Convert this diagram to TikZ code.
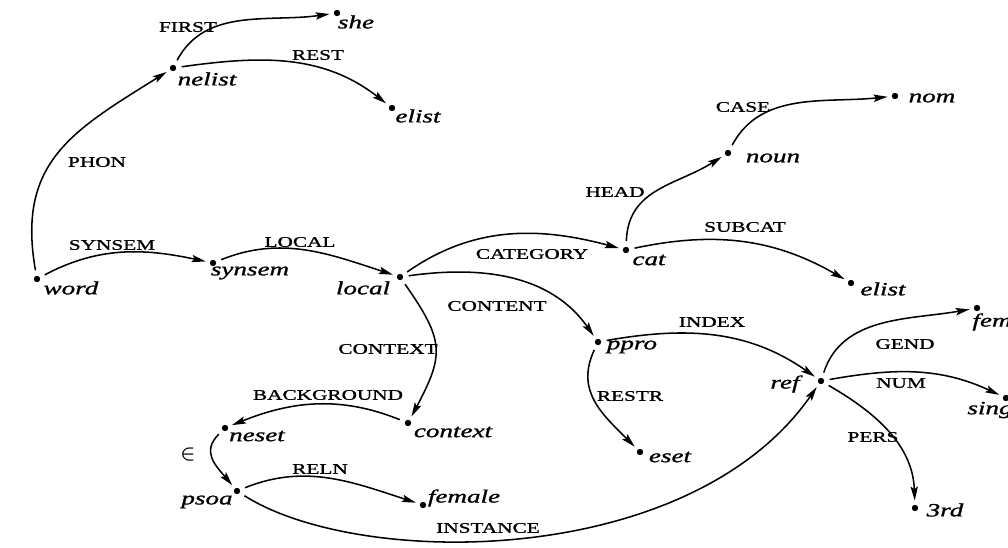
\documentclass[tikz,border=0pt]{standalone}
\usepackage{graphicx}
\usepackage{fontspec}
\setmainfont[FakeStretch=1.45,FakeBold=1.2]{Liberation Serif}
\usetikzlibrary{arrows.meta}
\begin{document}
\begin{tikzpicture}[x=0.75pt,y=0.75pt,
  dot/.style={circle,fill=black,inner sep=0pt,minimum size=4.8pt},
  val/.style={font=\fontsize{14}{14}\selectfont\itshape,inner sep=0pt},
  feat/.style={font=\fontsize{11}{11}\selectfont,inner sep=0pt},
  arc/.style={line width=1.15pt,-{Stealth[length=10.5pt,width=5.5pt,inset=2pt]},
              shorten <=4pt,shorten >=3pt},
]
\useasboundingbox (0,0) rectangle (1008,547);

% sort nodes (dots)
\node[dot] (she)     at (337,534) {};
\node[dot] (nelist)  at (173,479) {};
\node[dot] (elistA)  at (392,439) {};
\node[dot] (nom)     at (895,451) {};
\node[dot] (noun)    at (728,394) {};
\node[dot] (cat)     at (626,297) {};
\node[dot] (elistB)  at (851,264) {};
\node[dot] (word)    at (37,268) {};
\node[dot] (synsem)  at (213,284) {};
\node[dot] (local)   at (400,270) {};
\node[dot] (ppro)    at (598,205) {};
\node[dot] (fem)     at (977,239) {};
\node[dot] (ref)     at (821,166) {};
\node[dot] (sing)    at (1006,149) {};
\node[dot] (context) at (408,124) {};
\node[dot] (neset)   at (225,119) {};
\node[dot] (eset)    at (640,95) {};
\node[dot] (psoa)    at (237,56) {};
\node[dot] (female)  at (423,42) {};
\node[dot] (third)   at (915,39) {};

% sort names
\node[val] (she-t)     at (356,525) {she};
\node[val] (nelist-t)  at (207,468) {nelist};
\node[val] (elistA-t)  at (418,431) {elist};
\node[val] (nom-t)     at (932,449) {nom};
\node[val] (noun-t)    at (773,389) {noun};
\node[val] (cat-t)     at (649,287) {cat};
\node[val] (elistB-t)  at (883,258) {elist};
\node[val] (word-t)    at (71,259) {word};
\node[val] (synsem-t)  at (250,274) {synsem};
\node[val] (local-t)   at (363,259) {local};
\node[val] (ppro-t)    at (632,200) {ppro};
\node[val] (fem-t)     at (992,225) {fem};
\node[val] (ref-t)     at (785,163) {ref};
\node[val] (sing-t)    at (990,137) {sing};
\node[val] (context-t) at (453,115) {context};
\node[val] (neset-t)   at (257,111) {neset};
\node[val] (eset-t)    at (670,90) {eset};
\node[val] (psoa-t)    at (207,45) {psoa};
\node[val] (female-t)  at (464,49) {female};
\node[val] (third-t)   at (945,37) {3rd};

% feature arcs
\draw[arc] (word)    to[out=100,in=212,looseness=1.2] (nelist);
\draw[arc] (word)    to[out=28,in=168] (synsem);
\draw[arc] (synsem)  to[out=22,in=162] (local);
\draw[arc] (nelist)  to[out=62,in=188] (she);
\draw[arc] (nelist)  to[out=8,in=142] (elistA);
\draw[arc] (noun)    to[out=62,in=186] (nom);
\draw[arc] (cat)     to[out=88,in=212,looseness=1.1] (noun);
\draw[arc] (cat)     to[out=12,in=150] (elistB);
\draw[arc] (local)   to[out=35,in=165] (cat);
\draw[arc] (local)   to[out=8,in=125] (ppro);
\draw[arc] (local)   to[out=-55,in=62,looseness=1.35] (context);
\draw[arc] (ppro)    to[out=10,in=145] (ref);
\draw[arc] (ppro)    to[out=245,in=135,looseness=1.15] (eset);
\draw[arc] (ref)     to[out=72,in=190] (fem);
\draw[arc] (ref)     to[out=10,in=155] (sing);
\draw[arc] (ref)     to[out=-30,in=92] (third);
\draw[arc] (context) to[out=158,in=22] (neset);
\draw[arc] (neset)   to[out=225,in=130,looseness=1.3] (psoa);
\draw[arc] (psoa)    to[out=22,in=162] (female);
\draw[arc] (psoa)    .. controls (360,-22) and (690,-22) .. (ref);

% feature labels
\node[feat] (l-first)   at (188,520) {FIRST};
\node[feat] (l-rest)    at (318,492) {REST};
\node[feat] (l-phon)    at (97,385) {PHON};
\node[feat] (l-synsem)  at (112,302) {SYNSEM};
\node[feat] (l-local)   at (300,305) {LOCAL};
\node[feat] (l-case)    at (743,440) {CASE};
\node[feat] (l-head)    at (615,355) {HEAD};
\node[feat] (l-subcat)  at (745,320) {SUBCAT};
\node[feat] (l-cat)     at (532,293) {CATEGORY};
\node[feat] (l-content) at (497,241) {CONTENT};
\node[feat] (l-context) at (388,198) {CONTEXT};
\node[feat] (l-index)   at (712,225) {INDEX};
\node[feat] (l-gend)    at (905,203) {GEND};
\node[feat] (l-num)     at (901,164) {NUM};
\node[feat] (l-pers)    at (873,110) {PERS};
\node[feat] (l-restr)   at (630,151) {RESTR};
\node[feat] (l-bg)      at (328,152) {BACKGROUND};
\node[feat] (l-elem)    at (188,92) {\scalebox{1.35}{\boldmath$\in$}};
\node[feat] (l-reln)    at (320,78) {RELN};
\node[feat] (l-inst)    at (488,19) {INSTANCE};
\end{tikzpicture}
\end{document}
